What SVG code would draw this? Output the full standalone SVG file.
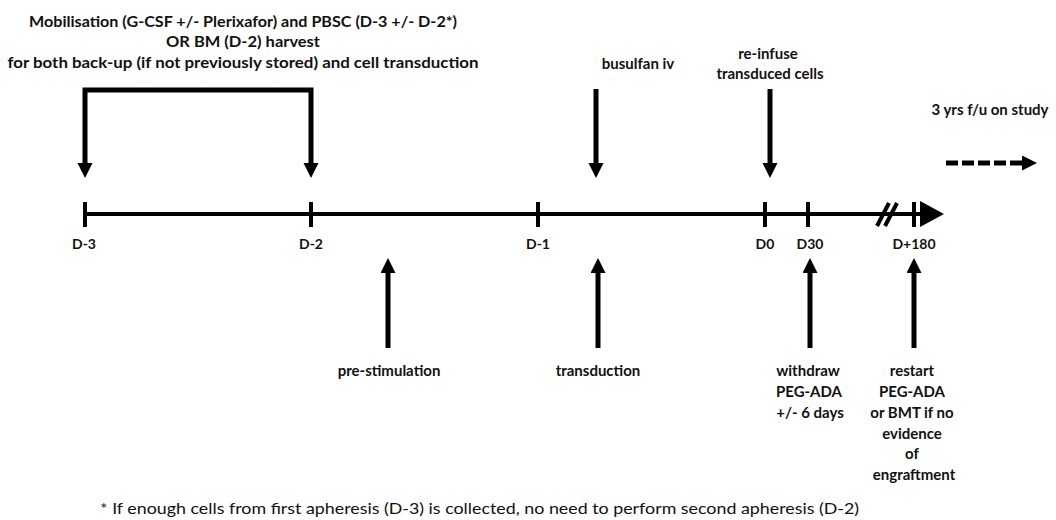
<svg xmlns="http://www.w3.org/2000/svg" width="1056" height="520" viewBox="0 0 1056 520">
<style>
.t{font-family:Lato,"Liberation Sans",sans-serif;font-weight:bold;font-size:15px;fill:#111;text-anchor:middle}
.d{font-family:Lato,"Liberation Sans",sans-serif;font-weight:bold;font-size:14px;fill:#111;text-anchor:middle}
.f{font-family:Lato,"Liberation Sans",sans-serif;font-size:15px;fill:#111}
.s{stroke:#000;stroke-width:5;fill:none}
.tk{stroke:#000;stroke-width:4}
</style>
<defs>
<marker id="ah" markerUnits="userSpaceOnUse" markerWidth="16" markerHeight="16" refX="5" refY="7.5" orient="auto-start-reverse">
<path d="M0,0 L15,7.5 L0,15 z" fill="#000"/>
</marker>
<marker id="big" markerUnits="userSpaceOnUse" markerWidth="26" markerHeight="28" refX="2" refY="13" orient="auto">
<path d="M0,0 L24,13 L0,26 z" fill="#000"/>
</marker>
</defs>
<rect width="1056" height="520" fill="#fff"/>

<g id="header">
<text class="t" x="243" y="27" textLength="428" lengthAdjust="spacingAndGlyphs">Mobilisation (G-CSF +/- Plerixafor) and PBSC (D-3 +/- D-2*)</text>
<text class="t" x="243" y="47" textLength="154" lengthAdjust="spacingAndGlyphs">OR BM (D-2) harvest</text>
<text class="t" x="243" y="68" textLength="471" lengthAdjust="spacingAndGlyphs">for both back-up (if not previously stored) and cell transduction</text>
</g>

<g id="connectors">
<path class="s" d="M85,168 L85,90 L311,90 L311,168" marker-start="url(#ah)" marker-end="url(#ah)"/>
<line class="s" x1="596" y1="89" x2="596" y2="168" marker-end="url(#ah)"/>
<line class="s" x1="770" y1="89" x2="770" y2="168" marker-end="url(#ah)"/>
<line class="s" x1="388" y1="348" x2="388" y2="268" marker-end="url(#ah)"/>
<line class="s" x1="598" y1="348" x2="598" y2="268" marker-end="url(#ah)"/>
<line class="s" x1="810" y1="348" x2="810" y2="268" marker-end="url(#ah)"/>
<line class="s" x1="914" y1="348" x2="914" y2="268" marker-end="url(#ah)"/>
<line class="s" x1="946" y1="163" x2="1027" y2="163" stroke-dasharray="12 4" marker-end="url(#ah)"/>
</g>

<g id="timeline">
<line stroke="#000" stroke-width="4" x1="84" y1="214" x2="922" y2="214" marker-end="url(#big)"/>
<line class="tk" x1="85" y1="202" x2="85" y2="227"/>
<line class="tk" x1="311" y1="202" x2="311" y2="227"/>
<line class="tk" x1="538" y1="202" x2="538" y2="227"/>
<line class="tk" x1="765" y1="202" x2="765" y2="227"/>
<line class="tk" x1="808" y1="202" x2="808" y2="227"/>
<line class="tk" x1="914" y1="202" x2="914" y2="227"/>
<line stroke="#000" stroke-width="4" x1="877" y1="226" x2="889" y2="203"/>
<line stroke="#000" stroke-width="4" x1="885" y1="226" x2="897" y2="203"/>
</g>

<g id="day-labels">
<text class="d" x="84" y="249">D-3</text>
<text class="d" x="311" y="249">D-2</text>
<text class="d" x="538" y="249">D-1</text>
<text class="d" x="765" y="249">D0</text>
<text class="d" x="810" y="249">D30</text>
<text class="d" x="914" y="249">D+180</text>
</g>

<g id="busulfan"><text class="t" x="638" y="69">busulfan iv</text></g>
<g id="reinfuse">
<text class="t" x="768" y="59">re-infuse</text>
<text class="t" x="770" y="79">transduced cells</text>
</g>
<g id="followup"><text class="t" x="990" y="115" font-size="14">3 yrs f/u on study</text></g>
<g id="prestim"><text class="t" x="389" y="376">pre-stimulation</text></g>
<g id="transduction"><text class="t" x="598" y="376">transduction</text></g>
<g id="withdraw">
<text class="t" x="808" y="376">withdraw</text>
<text class="t" x="809" y="397">PEG-ADA</text>
<text class="t" x="810" y="418">+/- 6 days</text>
</g>
<g id="restart">
<text class="t" x="912" y="376">restart</text>
<text class="t" x="912" y="397">PEG-ADA</text>
<text class="t" x="912" y="418">or BMT if no</text>
<text class="t" x="912" y="439">evidence</text>
<text class="t" x="912" y="459">of</text>
<text class="t" x="914" y="480">engraftment</text>
</g>
<g id="footnote"><text class="f" x="100" y="514" textLength="759" lengthAdjust="spacingAndGlyphs">* If enough cells from first apheresis (D-3) is collected, no need to perform second apheresis (D-2)</text></g>
</svg>
